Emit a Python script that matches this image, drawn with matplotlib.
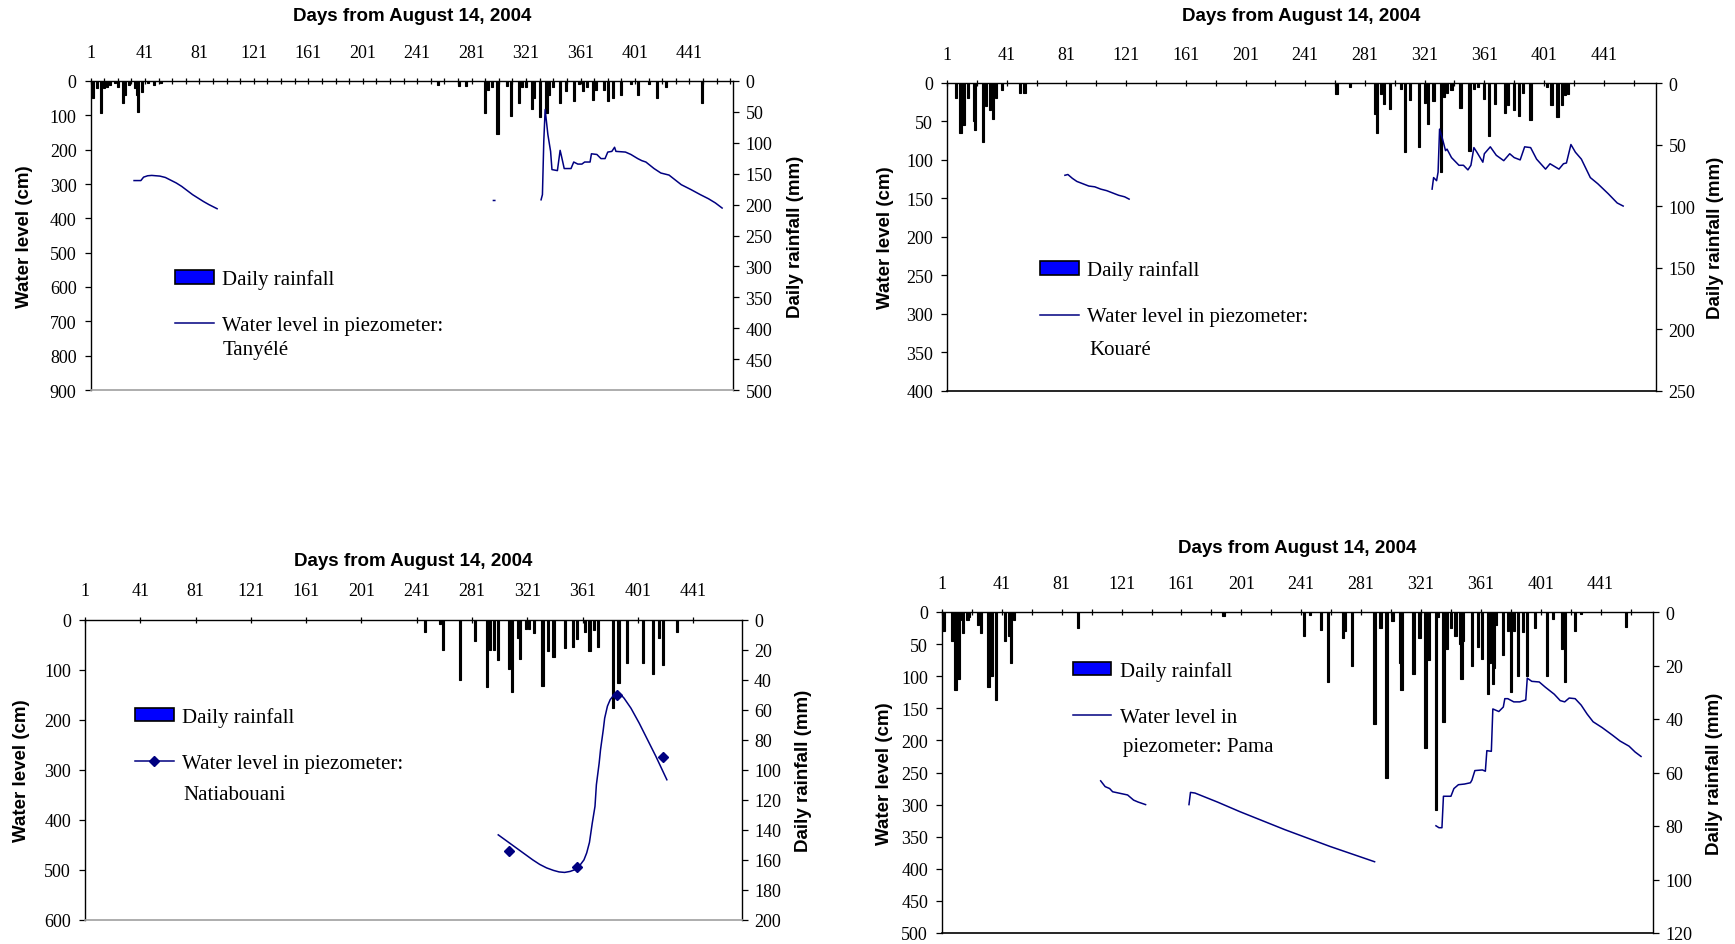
#!/usr/bin/python

import numpy as np
import matplotlib
matplotlib.use("Agg")
import matplotlib.pyplot as plt
from matplotlib.patches import Patch
from matplotlib.lines import Line2D

NAN = float("nan")

# Tanyele
tanyele_rain_days = [3, 6, 9, 11, 13, 15, 19, 21, 25, 26, 29, 34, 35, 36, 39, 43, 48, 53,
                     256, 272, 277,
                     291, 293, 296, 300, 307, 310, 316, 318, 321, 325, 327, 331, 336, 338, 341,
                     346, 350, 356, 360, 363, 366, 370, 372, 378, 381, 385, 391, 398, 403, 411,
                     417, 424, 450]
tanyele_rain_mm = [28, 12, 52, 11, 9, 7, 4, 10, 36, 23, 7, 12, 23, 50, 17, 3, 7, 3,
                   6, 8, 8,
                   51, 14, 10, 85, 8, 57, 35, 10, 10, 46, 27, 59, 51, 22, 10,
                   35, 16, 32, 5, 16, 10, 30, 14, 14, 32, 27, 22, 5, 22, 5,
                   27, 10, 35]
tanyele_level_days = [33, 38, 40, 43, 46, 49, 52, 56, 60, 64, 68, 72, 76, 80, 84, 88, 92, 94, NAN,
                      297, 298, NAN,
                      332, 333, 334, 335, 337, 339, 340, 344, 346, 347, 349, 354, 356, 359, 362,
                      364, 368, 369, 373, 376, 379, 381, 384, 386, 387, 394, 398, 403, 406, 409,
                      415, 420, 426, 435, 442, 449, 455, 460, 465]
tanyele_level_cm = [290, 290, 280, 276, 275, 276, 277, 281, 289, 297, 307, 319, 331, 341, 351, 360, 368, 372, NAN,
                    348, 348, NAN,
                    346, 331, 175, 83, 156, 205, 258, 261, 202, 219, 255, 255, 236, 242, 242,
                    236, 236, 212, 214, 226, 226, 207, 205, 193, 205, 207, 214, 226, 232, 236,
                    255, 268, 274, 302, 316, 331, 343, 355, 370]

# Kouare
kouare_rain_days = [7, 10, 12, 15, 19, 20, 25, 27, 30, 32, 34, 38, 50, 53,
                    262, 271, 288, 289, 292, 294, 298, 305, 308, 311, 317, 321, 323, 327, 332,
                    334, 336, 339, 345, 351, 354, 357, 361, 364, 368, 375, 377, 381, 384, 387,
                    392, 403, 406, 410, 413, 415, 417]
kouare_rain_mm = [12, 41, 34, 12, 31, 38, 48, 19, 22, 29, 12, 6, 8, 8,
                  9, 3.5, 25, 41, 9, 17, 21, 5, 56, 14, 52, 16, 33, 15, 72,
                  11, 8, 6, 20, 55, 5, 3.5, 13, 43, 17, 24, 18, 22, 27, 8,
                  30, 3.5, 18, 28, 18, 10, 9]
kouare_level_days = [80, 82, 85, 88, 92, 96, 100, 104, 108, 112, 116, 120, 123, NAN,
                     326, 327, 329, 330, 331, 333, 335, 336, 339, 344, 347, 350, 352, 354, 356,
                     360, 361, 365, 369, 374, 378, 381, 385, 388, 392, 396, 402, 405, 411, 414,
                     416, 419, 422, 426, 432, 437, 444, 450, 454]
kouare_level_cm = [120, 119, 124, 128, 131, 134, 135, 138, 140, 143, 146, 148, 151, NAN,
                   138, 123, 127, 116, 60, 73, 88, 86, 97, 107, 107, 113, 107, 84, 90,
                   103, 92, 83, 94, 101, 92, 97, 100, 83, 84, 99, 112, 105, 112, 105,
                   104, 80, 90, 99, 123, 131, 144, 156, 160]

# Natiabouani
natia_rain_days = [247, 258, 260, 272, 283, 292, 294, 297, 300, 308, 310, 314, 316, 320, 322,
                   326, 332, 336, 340, 348, 354, 357, 363, 366, 369, 372, 383, 387, 393, 405,
                   412, 416, 419, 429]
natia_rain_mm = [8, 3, 20, 40, 14, 45, 20, 20, 27, 33, 48, 12, 26, 6, 6,
                 9, 44, 21, 25, 19, 18, 13, 8, 21, 7, 18, 59, 42, 29, 29,
                 36, 12, 30, 8]
natia_curve_days = [300, 305, 310, 315, 320, 325, 330, 335, 340, 344, 348, 352, 356, 359, 362,
                    364, 366, 368, 370, 371, 373, 374, 376, 377, 379, 381, 383, 385, 387, 389,
                    391, 396, 402, 408, 414, 422]
natia_curve_cm = [430, 440, 450, 460, 470, 480, 489, 496, 501, 504, 505, 503, 499, 491, 480,
                  466, 445, 407, 373, 330, 287, 260, 220, 197, 173, 160, 153, 150, 149, 151,
                  157, 177, 207, 240, 273, 320]
natia_point_days = [308, 357, 386, 419]
natia_point_cm = [463, 495, 151, 275]

# Pama
pama_rain_days = [2, 8, 10, 12, 13, 15, 18, 19, 25, 27, 32, 34, 37, 43, 46, 47, 49, 92, 189,
                  243, 247, 254, 259, 269, 270, 275, 290, 294, 298, 302, 307, 308, 316, 320,
                  324, 326, 331, 332, 336, 338, 341, 344, 347, 348, 349, 355, 359, 362, 366,
                  367, 369, 370, 371, 376, 379, 381, 383, 386, 389, 392, 397, 405, 409, 415,
                  417, 424, 428, 458]
pama_rain_mm = [7, 11, 29, 25, 3, 8, 3, 2, 5, 8, 28, 24, 33, 11, 9, 19, 3, 6, 1.5,
                9, 1, 6.6, 26, 9.6, 7, 20, 42, 6, 62, 3.4, 19, 29, 23, 9.6,
                51, 18, 74, 2, 41, 14, 6, 9, 12, 25, 11, 20, 13, 17.5, 30.5,
                19, 27, 21, 5, 16, 7, 30, 7, 24, 7.5, 24, 6, 24, 2.5, 14,
                26, 7, 0.6, 5.6]
pama_level_days = [107, 110, 113, 115, 119, 125, 129, 132, 137, NAN,
                   166, 167, 170, 185, 200, 215, 230, 245, 260, 275, 290, NAN,
                   331, 333, 335, 336, 341, 343, 346, 350, 354, 355, 357, 362, 364, 365, 368,
                   369, 373, 376, 377, 379, 383, 387, 391, 392, 395, 400, 404, 410, 414, 417,
                   420, 424, 428, 432, 436, 442, 449, 454, 460, 464, 468]
pama_level_cm = [263, 272, 275, 280, 282, 285, 293, 296, 300, NAN,
                 300, 281, 282, 296, 311, 325, 339, 352, 365, 377, 389, NAN,
                 333, 336, 336, 287, 287, 275, 269, 268, 266, 262, 247, 246, 248, 216, 217,
                 151, 155, 148, 135, 135, 140, 140, 137, 103, 108, 109, 117, 128, 138, 140,
                 134, 135, 145, 159, 171, 180, 192, 201, 209, 218, 225]

W, H = 1735, 945
SERIF = "Liberation Serif"
SANS = "Liberation Sans"
NAVY = "#000080"
TICK_SIZE = 13
LEGEND_SIZE = 15
LABEL_SIZE = 13.5


def fig_rect(left, top, right, bottom):
    return [left / W, 1 - bottom / H, (right - left) / W, (bottom - top) / H]


def draw_panel(fig, box, rain_days, rain_mm, level_days, level_cm, level_lim, rain_lim,
               x_max, tick_step, title_y, label_x, legend_label, legend_more, legend_at,
               more_at, bottom_color, point_days=None, point_cm=None):
    left, top, right, bottom = box
    ax = fig.add_axes(fig_rect(*box))
    ax2 = ax.twinx()
    ax.set_zorder(ax2.get_zorder() + 1)
    ax.patch.set_visible(False)

    ax2.bar(rain_days, rain_mm, width=1.5, color="black", edgecolor="black", linewidth=0.8)
    ax.plot(level_days, level_cm, color=NAVY, linewidth=1.1)
    marker = None
    if point_days is not None:
        ax.plot(point_days, point_cm, linestyle="none", marker="D", markersize=5.5, color=NAVY)
        marker = "D"

    ax.set_xlim(1, x_max)
    ax.set_ylim(level_lim[0], 0)
    ax2.set_ylim(rain_lim[0], 0)
    ax.set_yticks(np.arange(0, level_lim[0] + 1, level_lim[1]))
    ax2.set_yticks(np.arange(0, rain_lim[0] + 1, rain_lim[1]))

    ticks = list(range(1, int(x_max) + 1, tick_step))
    labels = [str(t) if (t - 1) % 40 == 0 else "" for t in ticks]
    ax.xaxis.tick_top()
    ax.set_xticks(ticks, labels)
    ax.tick_params(axis="x", direction="inout", length=5, width=0.9, pad=12,
                   labelsize=TICK_SIZE, labelfontfamily=SERIF)
    ax.tick_params(axis="y", direction="out", length=4, width=0.9, pad=6,
                   labelsize=TICK_SIZE, labelfontfamily=SERIF)
    ax2.tick_params(axis="y", direction="out", length=4, width=0.9, pad=5,
                    labelsize=TICK_SIZE, labelfontfamily=SERIF)

    ax.spines["right"].set_visible(False)
    for s in ["top", "left", "bottom"]:
        ax2.spines[s].set_visible(False)
    for s in ["top", "left"]:
        ax.spines[s].set_linewidth(1.0)
    ax2.spines["right"].set_linewidth(1.0)
    ax.spines["bottom"].set_color(bottom_color)
    ax.spines["bottom"].set_linewidth(1.2)

    ax.set_ylabel("Water level (cm)", fontfamily=SANS, fontweight="bold", fontsize=LABEL_SIZE)
    ax2.set_ylabel("Daily rainfall (mm)", fontfamily=SANS, fontweight="bold", fontsize=LABEL_SIZE)
    half = LABEL_SIZE * 100 / 72 * 1.15 / 2
    ax.yaxis.set_label_coords((label_x[0] + half - left) / (right - left), 0.5)
    ax2.yaxis.set_label_coords((label_x[1] - half - left) / (right - left), 0.5)

    ax.text(0.5, 1 + (top - title_y) / (bottom - top), "Days from August 14, 2004",
            transform=ax.transAxes, ha="center", va="center",
            fontfamily=SANS, fontweight="bold", fontsize=13.5)

    handles = [Patch(facecolor="blue", edgecolor="black", linewidth=1.2),
               Line2D([], [], color=NAVY, linewidth=1.1, marker=marker, markersize=5.5)]
    ax.legend(handles, ["Daily rainfall", legend_label], loc="center left",
              bbox_to_anchor=(legend_at[0] / W, 1 - legend_at[1] / H),
              bbox_transform=fig.transFigure, frameon=False,
              prop={"family": SERIF, "size": LEGEND_SIZE}, handlelength=1.85,
              handleheight=0.6, handletextpad=0.4, labelspacing=1.3,
              borderpad=0, borderaxespad=0)
    fig.text(more_at[0] / W, 1 - more_at[1] / H, legend_more, va="center",
             fontfamily=SERIF, fontsize=LEGEND_SIZE)


def main():
    fig = plt.figure(figsize=(W / 100, H / 100), dpi=100)

    draw_panel(fig, (90.5, 82, 733, 391), tanyele_rain_days, tanyele_rain_mm,
               tanyele_level_days, tanyele_level_cm, (900, 100), (500, 50),
               473, 10, 16, (22.5, 798), "Water level in piezometer:", "Tanyélé",
               (175, 303.4), (222.7, 351), "#a0a0a0")
    draw_panel(fig, (947, 84, 1656, 391.6), kouare_rain_days, kouare_rain_mm,
               kouare_level_days, kouare_level_cm, (400, 50), (250, 50),
               476, 20, 16.6, (883, 1718), "Water level in piezometer:", "Kouaré",
               (1040, 294.5), (1089, 350.5), "black")
    draw_panel(fig, (85, 620.5, 741.5, 921), natia_rain_days, natia_rain_mm,
               natia_curve_days, natia_curve_cm, (600, 100), (200, 20),
               476, 40, 562, (19.5, 806), "Water level in piezometer:", "Natiabouani",
               (135, 741.3), (183.7, 795.5), "#a0a0a0",
               natia_point_days, natia_point_cm)
    draw_panel(fig, (942, 613, 1653, 934), pama_rain_days, pama_rain_mm,
               pama_level_days, pama_level_cm, (500, 50), (120, 20),
               476, 20, 549, (882, 1717), "Water level in", "piezometer: Pama",
               (1072.7, 695), (1123.3, 747.3), "black")

    fig.savefig("out.png", dpi=100)


if __name__ == '__main__':
    main()
